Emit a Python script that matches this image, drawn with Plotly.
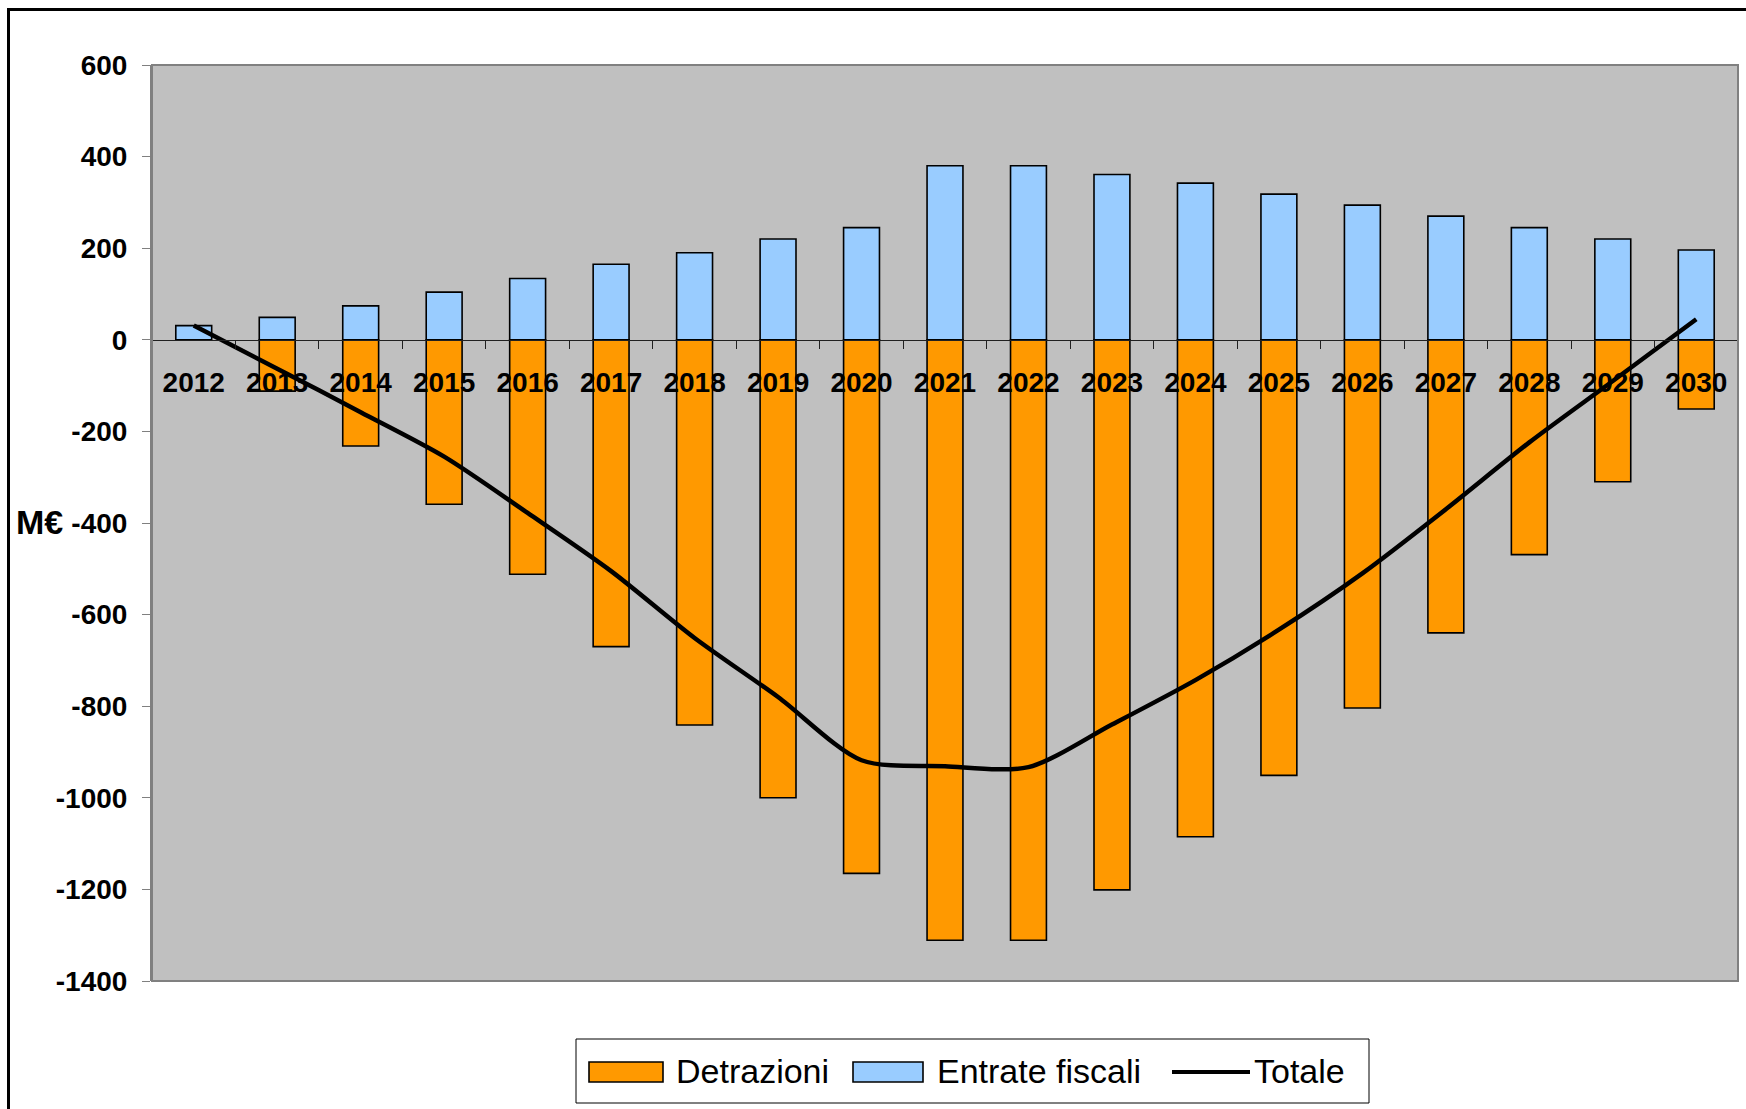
import plotly.graph_objects as go

# Yearly figures, million euro
years = [str(y) for y in range(2012, 2031)]
detrazioni = [0, -112, -232, -359, -512, -670, -841, -1000, -1165, -1311,
              -1311, -1201, -1085, -951, -804, -640, -469, -310, -151]
entrate_fiscali = [31, 49, 74, 104, 134, 165, 190, 220, 245, 380,
                   380, 361, 342, 318, 294, 270, 245, 220, 196]
totale = [31, -63, -158, -255, -378, -505, -651, -780, -918, -931,
          -933, -840, -743, -633, -510, -370, -224, -90, 45]

series_names = ["Detrazioni", "Entrate fiscali", "Totale"]
y_ticks = list(range(-1400, 601, 200))

ORANGE = "#FF9900"
BLUE = "#99CCFF"
FONT = "Liberation Sans, Arial, sans-serif"

W, H = 1746, 1109
ML, MR, MT, MB = 152, 8, 65, 128


def px(x):
    """Figure pixel column -> paper x."""
    return (x - ML) / (W - ML - MR)


def py(y):
    """Figure pixel row -> paper y."""
    return (H - MB - y) / (H - MT - MB)


fig = go.Figure()
fig.add_trace(go.Bar(
    x=years, y=detrazioni, name=series_names[0],
    marker=dict(color=ORANGE, line=dict(color="black", width=1.6)),
))
fig.add_trace(go.Bar(
    x=years, y=entrate_fiscali, name=series_names[1],
    marker=dict(color=BLUE, line=dict(color="black", width=1.6)),
))
fig.add_trace(go.Scatter(
    x=years, y=totale, name=series_names[2], mode="lines",
    line=dict(color="black", width=4.5, shape="spline", smoothing=0.8),
))

ymin, ymax = y_ticks[0], y_ticks[-1]
fig.update_layout(
    width=W, height=H,
    margin=dict(l=ML, r=MR, t=MT, b=MB, pad=0),
    paper_bgcolor="white",
    plot_bgcolor="#C0C0C0",
    barmode="relative",
    bargap=0.57,
    showlegend=False,
    font=dict(family=FONT, color="black"),
    xaxis=dict(
        type="category",
        anchor="free",
        position=(0 - ymin) / (ymax - ymin),
        showline=True, linecolor="#202020", linewidth=1,
        ticks="outside", tickson="boundaries", ticklen=8,
        tickcolor="#202020", tickwidth=1,
        ticklabelstandoff=18,
        tickfont=dict(family=FONT, size=28, weight="bold", color="black"),
        showgrid=False, zeroline=False,
        layer="above traces",
    ),
    yaxis=dict(
        range=[ymin, ymax],
        tickvals=y_ticks,
        ticktext=[str(v) for v in y_ticks],
        showline=True, linecolor="#808080", linewidth=2,
        ticks="outside", ticklen=8, tickcolor="#808080", tickwidth=1,
        ticklabelstandoff=9,
        tickfont=dict(family=FONT, size=28, weight="bold", color="black"),
        showgrid=False, zeroline=False,
    ),
)

shapes = [
    # plot area frame
    dict(type="rect", xref="paper", yref="paper", x0=0, x1=1, y0=0, y1=1,
         line=dict(color="#808080", width=2), layer="above"),
    # outer chart frame
    dict(type="rect", xref="paper", yref="paper",
         x0=px(8.5), x1=px(W + 20), y0=py(H + 20), y1=py(9.5),
         line=dict(color="black", width=3)),
    # legend box
    dict(type="rect", xref="paper", yref="paper",
         x0=px(576), x1=px(1369), y0=py(1103), y1=py(1039),
         line=dict(color="black", width=1), fillcolor="white"),
    # legend swatches
    dict(type="rect", xref="paper", yref="paper",
         x0=px(589), x1=px(663), y0=py(1082), y1=py(1062),
         line=dict(color="black", width=1.6), fillcolor=ORANGE),
    dict(type="rect", xref="paper", yref="paper",
         x0=px(853), x1=px(923), y0=py(1082), y1=py(1062),
         line=dict(color="black", width=1.6), fillcolor=BLUE),
    dict(type="line", xref="paper", yref="paper",
         x0=px(1172), x1=px(1250), y0=py(1072), y1=py(1072),
         line=dict(color="black", width=4)),
]

annotations = [
    dict(text="M€", xref="paper", yref="paper", x=px(14), y=py(522),
         xanchor="left", yanchor="middle", showarrow=False,
         font=dict(family=FONT, size=34, weight="bold", color="black")),
]
for label, xpix in zip(series_names, [674, 935, 1252]):
    annotations.append(dict(
        text=label, xref="paper", yref="paper", x=px(xpix), y=py(1071),
        xanchor="left", yanchor="middle", showarrow=False,
        font=dict(family=FONT, size=34, color="black"),
    ))

fig.update_layout(shapes=shapes, annotations=annotations)
fig.write_html("out.html")
